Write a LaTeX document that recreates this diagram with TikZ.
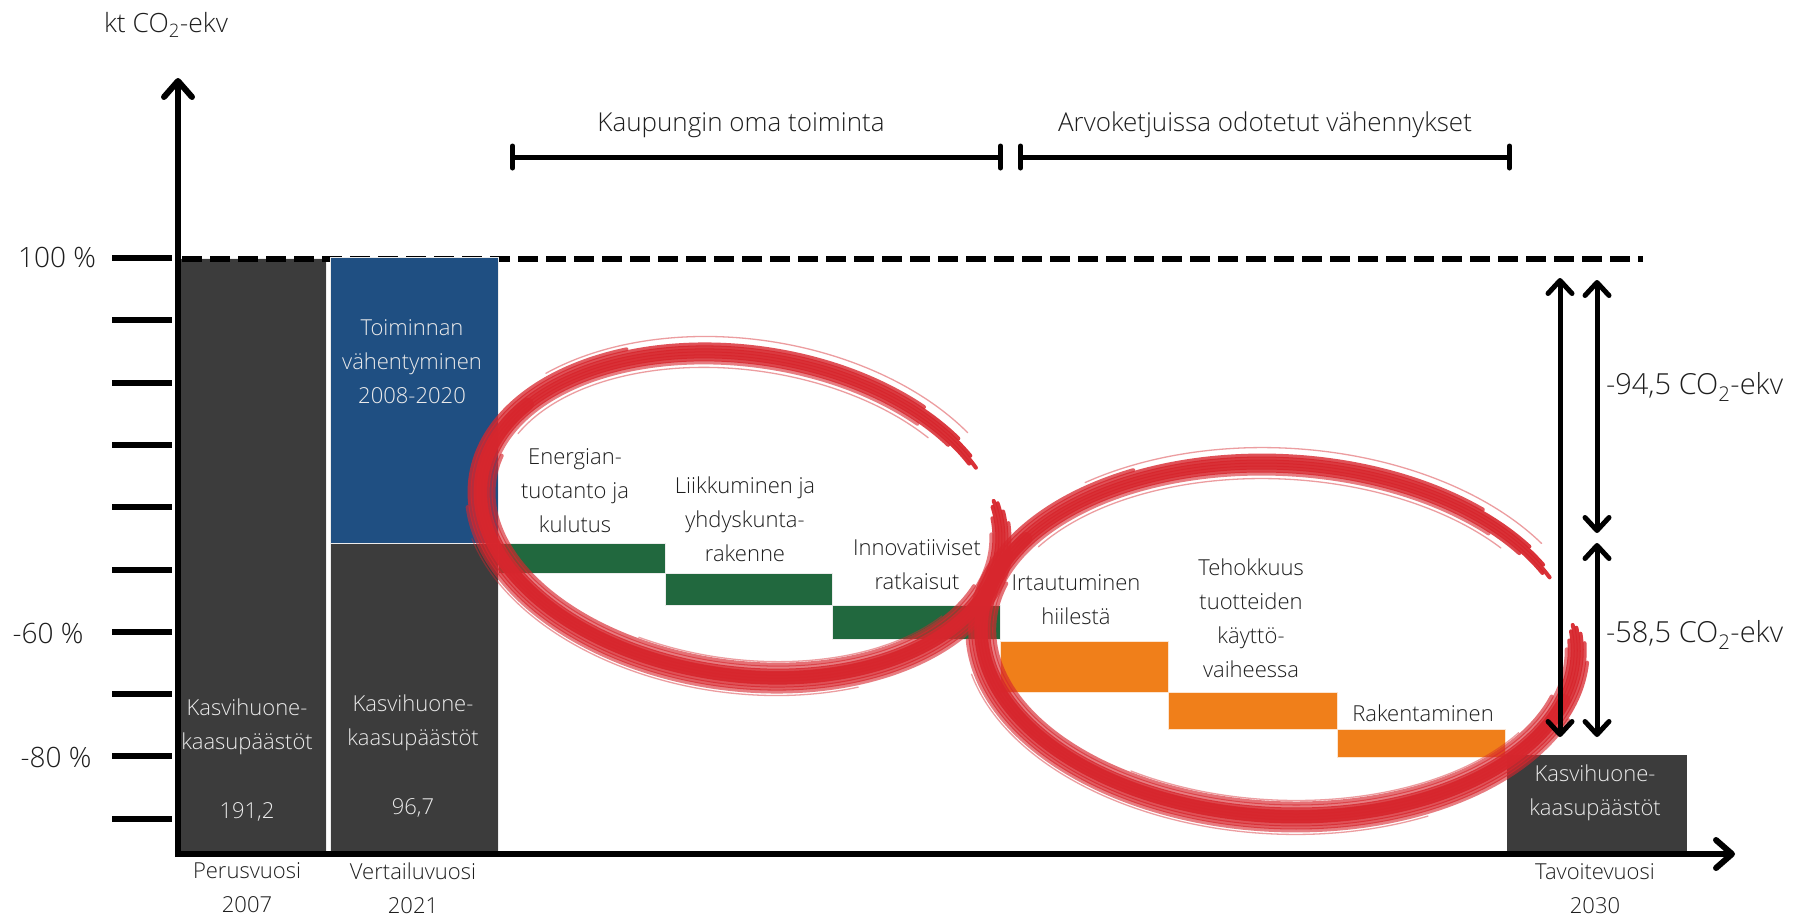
\documentclass[tikz,border=0pt]{standalone}
\usepackage{fontspec}
\IfFontExistsTF{Open Sans Light}{\setmainfont{Open Sans Light}}{\setmainfont{Open Sans}}
\usetikzlibrary{arrows.meta,calc}
\definecolor{bargrey}{HTML}{3C3C3C}
\definecolor{barblue}{HTML}{1F4F82}
\definecolor{bargreen}{HTML}{21683E}
\definecolor{barorange}{HTML}{F07F1A}
\definecolor{brushred}{HTML}{D7262D}
\definecolor{txt}{HTML}{1E1E1E}
\begin{document}
\begin{tikzpicture}[x=1pt,y=-1pt,
  every node/.style={inner sep=0pt, outer sep=0pt},
  lbl/.style={font=\fontsize{22}{34}\selectfont, text=txt, align=center},
  wlbl/.style={lbl, text=white!92!black},
  ticklbl/.style={font=\fontsize{28}{34}\selectfont, text=txt},
  toplbl/.style={font=\fontsize{26}{34}\selectfont, text=txt},
  unitlbl/.style={font=\fontsize{26.5}{34}\selectfont, text=txt},
  dimlbl/.style={font=\fontsize{29}{34}\selectfont, text=txt, anchor=west},
  barline/.style={draw=white!85!gray, line width=0.7pt},
  axisline/.style={line width=6pt, -{Straight Barb[length=16pt,width=28pt,line cap=round,line join=round]}},
  tickline/.style={line width=6pt},
  dimarrow/.style={line width=5pt, {Straight Barb[length=13pt,width=24pt,line cap=round,line join=round]}-{Straight Barb[length=13pt,width=24pt,line cap=round,line join=round]}},
  bracketline/.style={line width=5pt, {Bar[width=22pt,line cap=round]}-{Bar[width=22pt,line cap=round]}},
  brush/.style={draw=brushred, line width=4pt, line cap=round},
  brushcore/.style={draw=brushred, line width=13pt, line cap=round, opacity=0.8},
  streak/.style={draw=brushred, line width=1.3pt, line cap=round, opacity=0.45},
]
\useasboundingbox[fill=white] (0,0) rectangle (1801,916);

% first bar, then the dashed 100 % line, then the other bars
\path[fill=bargrey, barline] (180,258) rectangle (326,851);
\coordinate (d0) at (182,259);
\coordinate (d1) at (1643,259);
\draw[line width=6pt, dash pattern=on 20pt off 8pt] (d0) -- (d1);

\path[fill=barblue, barline] (330,257) rectangle (498,543);
\path[fill=bargrey, barline] (330,543) rectangle (498,851);
\path[fill=bargreen, barline] (498,543) rectangle (665,573);
\path[fill=bargreen, barline] (665,573) rectangle (832,605);
\path[fill=bargreen, barline] (832,605) rectangle (1000,639);
\path[fill=barorange, draw=white!80!barorange, line width=0.7pt] (1000,641) rectangle (1168,692);
\path[fill=barorange, draw=white!80!barorange, line width=0.7pt] (1168,692) rectangle (1337,729);
\path[fill=barorange, draw=white!80!barorange, line width=0.7pt] (1337,729) rectangle (1505,757);
\path[fill=bargrey] (1507,755) rectangle (1687,851);

% bar texts
\node[wlbl] (t1) at (247,727) {Kasvihuone-\\kaasupäästöt};
\node[wlbl] (v1) at (247,812) {191,2};
\node[wlbl] (t2) at (413,723) {Kasvihuone-\\kaasupäästöt};
\node[wlbl] (v2) at (413,808) {96,7};
\node[wlbl] (tb) at (412,362) {Toiminnan\\vähentyminen\\2008-2020};
\node[wlbl] (t3) at (1595,793) {Kasvihuone-\\kaasupäästöt};

\node[lbl] (g1) at (575,491) {Energian-\\tuotanto ja\\kulutus};
\node[lbl] (g2) at (745,519) {Liikkuminen ja\\yhdyskunta-\\rakenne};
\node[lbl] (g3) at (917,565) {Innovatiiviset\\ratkaisut};
\node[lbl] (o1) at (1076,600) {Irtautuminen\\hiilestä};
\node[lbl] (o2) at (1251,618) {Tehokkuus\\tuotteiden\\käyttö-\\vaiheessa};
\node[lbl] (o3) at (1423,713) {Rakentaminen};

% brush ellipses
\begin{scope}[shift={(741,515)}, rotate=-8]
\draw[brushcore] (150:262pt and 160pt) arc[start angle=150, end angle=340, x radius=262pt, y radius=160pt];
\foreach \d/\s/\e/\o in {-10/50/366/0.6, -7/40/372/0.85, -4/32/376/0.95, -1/30/378/0.95, 2/34/377/0.95, 5/40/374/0.9, 8/52/370/0.8, 11/120/360/0.75, -13/170/345/0.65, 14/190/335/0.6}{
  \pgfmathsetmacro\ra{262+\d}
  \pgfmathsetmacro\rb{160+\d}
  \draw[brush, opacity=\o] (\s:\ra pt and \rb pt) arc[start angle=\s, end angle=\e, x radius=\ra pt, y radius=\rb pt];
}
\foreach \d/\s/\e in {-15/45/160, 16/40/140, -16/250/330, 18/200/300}{
  \pgfmathsetmacro\ra{262+\d}
  \pgfmathsetmacro\rb{160+\d}
  \draw[streak] (\s:\ra pt and \rb pt) arc[start angle=\s, end angle=\e, x radius=\ra pt, y radius=\rb pt];
}
\end{scope}
\begin{scope}[shift={(1279,640)}, rotate=-3]
\draw[brushcore] (150:298pt and 176pt) arc[start angle=150, end angle=345, x radius=298pt, y radius=176pt];
\foreach \d/\s/\e/\o in {-10/45/362/0.6, -7/36/365/0.85, -4/28/368/0.95, -1/26/370/0.95, 2/30/369/0.95, 5/36/367/0.9, 8/50/364/0.8, 11/120/358/0.75, -13/165/345/0.65, 14/185/340/0.6}{
  \pgfmathsetmacro\ra{298+\d}
  \pgfmathsetmacro\rb{176+\d}
  \draw[brush, opacity=\o] (\s:\ra pt and \rb pt) arc[start angle=\s, end angle=\e, x radius=\ra pt, y radius=\rb pt];
}
\foreach \d/\s/\e in {-15/40/150, 16/35/130, -16/240/330, 18/195/300}{
  \pgfmathsetmacro\ra{298+\d}
  \pgfmathsetmacro\rb{176+\d}
  \draw[streak] (\s:\ra pt and \rb pt) arc[start angle=\s, end angle=\e, x radius=\ra pt, y radius=\rb pt];
}
\end{scope}

% axes
\coordinate (O) at (178,857);
\coordinate (ytop) at (178,78);
\coordinate (xl) at (175,854);
\coordinate (xr) at (1735,854);
\draw[axisline] (O) -- (ytop);
\draw[axisline] (xl) -- (xr);
\foreach \k in {0,...,9}{
  \draw[tickline] (112,{258+62.3*\k}) -- (172,{258+62.3*\k});
}

% axis labels
\node[unitlbl] (unit) at (166,25) {kt CO\textsubscript{2}-ekv};
\node[ticklbl] (p100) at (57,258) {100 \%};
\node[ticklbl] (p60) at (48,633) {-60 \%};
\node[ticklbl] (p80) at (56,757) {-80 \%};

\node[lbl] (y1) at (247,888) {Perusvuosi\\2007};
\node[lbl] (y2) at (413,888) {Vertailuvuosi\\2021};
\node[lbl] (y3) at (1595,889) {Tavoitevuosi\\2030};

% brackets
\coordinate (b1l) at (510,157);
\coordinate (b1r) at (1003,157);
\coordinate (b2l) at (1018,157);
\coordinate (b2r) at (1512,157);
\draw[bracketline] (b1l) -- (b1r);
\draw[bracketline] (b2l) -- (b2r);
\node[toplbl] (own) at (741,125) {Kaupungin oma toiminta};
\node[toplbl] (chain) at (1265,125) {Arvoketjuissa odotetut vähennykset};

% dimension arrows
\coordinate (a1t) at (1560,278);
\coordinate (a1b) at (1560,737);
\coordinate (a2t) at (1597,280);
\coordinate (a2b) at (1597,533);
\coordinate (a3t) at (1597,543);
\coordinate (a3b) at (1597,737);
\draw[dimarrow] (a1t) -- (a1b);
\draw[dimarrow] (a2t) -- (a2b);
\draw[dimarrow] (a3t) -- (a3b);
\node[dimlbl] (m1) at (1606,387) {-94,5 CO\textsubscript{2}-ekv};
\node[dimlbl] (m2) at (1606,635) {-58,5 CO\textsubscript{2}-ekv};
\end{tikzpicture}
\end{document}
